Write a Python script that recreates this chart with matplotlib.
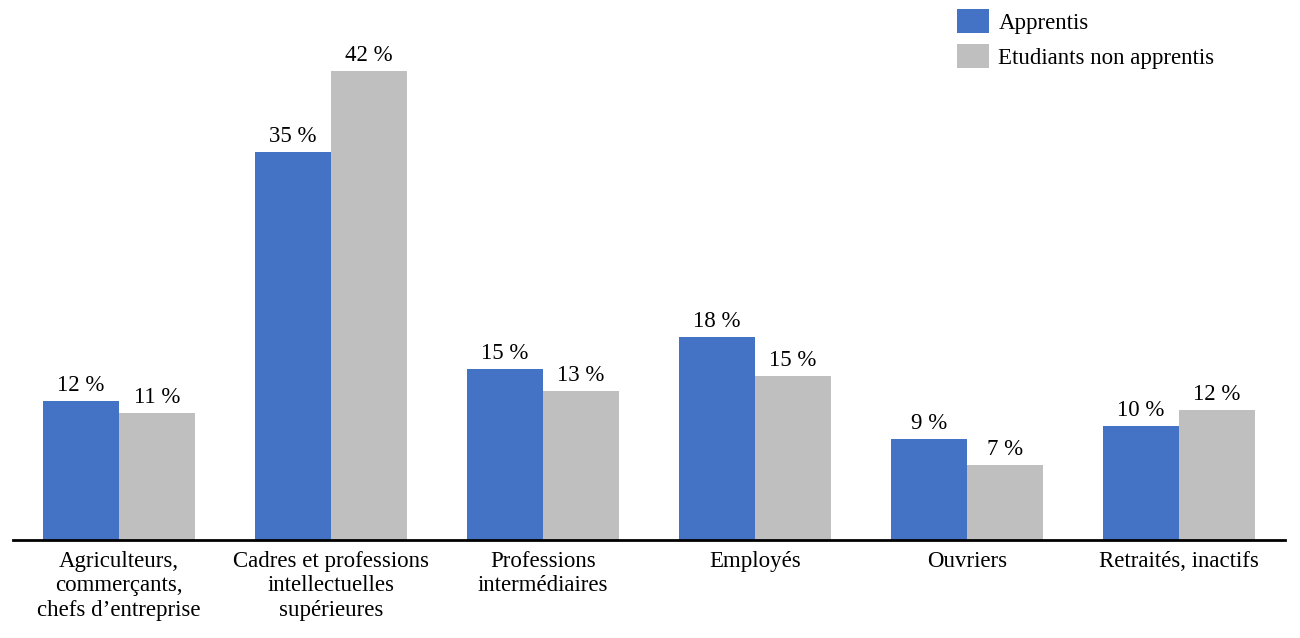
import numpy as np
import matplotlib.pyplot as plt

categories = ['Agriculteurs,\ncommerçants,\nchefs d\u2019entreprise',
              'Cadres et professions\nintellectuelles\nsupérieures',
              'Professions\nintermédiaires',
              'Employés',
              'Ouvriers',
              'Retraités, inactifs']
apprentis = [12.4, 34.7, 15.3, 18.2, 9.0, 10.2]
etudiants = [11.4, 42.0, 13.3, 14.7, 6.7, 11.6]
series_names = ['Apprentis', 'Etudiants non apprentis']

plt.rcParams['font.family'] = ['Liberation Serif', 'DejaVu Serif']
fs = 16.5

fig = plt.figure(figsize=(13, 6.38), dpi=100)
ax = fig.add_axes([13 / 1300, 1 - 540 / 638, 1272 / 1300, 45 * 11.17 / 638])

x = np.arange(len(categories))
w = 0.36
b1 = ax.bar(x - w / 2, apprentis, w, color='#4472C4', label=series_names[0])
b2 = ax.bar(x + w / 2, etudiants, w, color='#BFBFBF', label=series_names[1])

for bars, vals in ((b1, apprentis), (b2, etudiants)):
    for b, v in zip(bars, vals):
        ax.annotate(f'{round(v)} %', (b.get_x() + b.get_width() / 2, v),
                    xytext=(0, 5), textcoords='offset pixels',
                    ha='center', va='bottom', fontsize=fs)

ax.set_xlim(-0.5, len(categories) - 0.5)
ax.set_ylim(0, 45)
ax.set_xticks(x)
ax.set_xticklabels(categories, fontsize=fs, linespacing=1.2)
ax.tick_params(axis='x', length=0, pad=8)
ax.set_yticks([])
for s in ('top', 'right', 'left'):
    ax.spines[s].set_visible(False)
ax.spines['bottom'].set_linewidth(2)

ax.legend(loc='upper left', bbox_to_anchor=(948 / 1300, 1.0), bbox_transform=fig.transFigure,
          frameon=False, fontsize=fs, handlelength=1.4, handleheight=1.2,
          handletextpad=0.4, labelspacing=0.47, borderaxespad=0.0)

fig.savefig('out.png', dpi=100)
